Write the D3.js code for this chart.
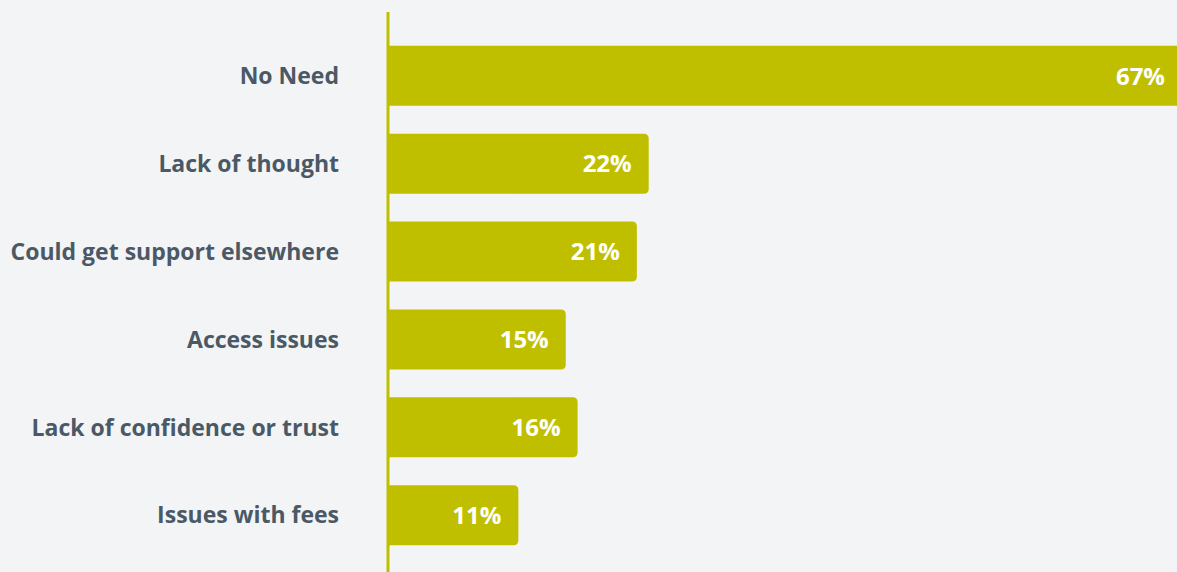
<!DOCTYPE html>
<html>
<head>
<meta charset="utf-8">
<script src="https://cdn.jsdelivr.net/npm/d3@7"></script>
<style>
  html, body { margin: 0; padding: 0; background: #f3f4f6; }
  svg { display: block; }
</style>
</head>
<body>
<svg id="chart"></svg>
<script>
const categories = ["No Need", "Lack of thought", "Could get support elsewhere", "Access issues", "Lack of confidence or trust", "Issues with fees"];
const values = [67, 22, 21, 15, 16, 11];
const valueLabels = ["67%", "22%", "21%", "15%", "16%", "11%"];

const width = 1177, height = 572;
const axisX = 388;

const svg = d3.select("#chart")
    .attr("width", width)
    .attr("height", height);

// the longest bar runs a little past the right edge of the picture
const x = d3.scaleLinear()
    .domain([0, 67])
    .range([axisX, 1182]);

const y = d3.scaleBand()
    .domain(categories)
    .range([16, 575])
    .paddingInner(0.317)
    .paddingOuter(0.34);

// bar with rounded right corners only
function barPath(x0, x1, top, h, r) {
    return `M${x0},${top}H${x1 - r}Q${x1},${top} ${x1},${top + r}` +
        `V${top + h - r}Q${x1},${top + h} ${x1 - r},${top + h}H${x0}Z`;
}

svg.selectAll(".bar")
    .data(categories)
    .enter()
    .append("path")
    .attr("class", "bar")
    .attr("d", (d, i) => barPath(x(0), x(values[i]), y(d), y.bandwidth(), 5))
    .style("fill", "#bfbf00");

// vertical axis line
svg.append("line")
    .attr("x1", axisX)
    .attr("x2", axisX)
    .attr("y1", 12)
    .attr("y2", height)
    .style("stroke", "#bfbf00")
    .style("stroke-width", "3px");

// category labels
svg.selectAll(".cat")
    .data(categories)
    .enter()
    .append("text")
    .attr("class", "cat")
    .attr("x", 339)
    .attr("y", d => y(d) + y.bandwidth() / 2)
    .attr("dy", ".36em")
    .style("text-anchor", "end")
    .style("font-family", "'Open Sans', sans-serif")
    .style("font-weight", "700")
    .style("font-size", "23px")
    .style("fill", "#4a5965")
    .text(d => d);

// value labels inside bars
svg.selectAll(".val")
    .data(categories)
    .enter()
    .append("text")
    .attr("class", "val")
    .attr("x", (d, i) => x(values[i]) - 17)
    .attr("y", d => y(d) + y.bandwidth() / 2)
    .attr("dy", ".36em")
    .style("text-anchor", "end")
    .style("font-family", "'Open Sans', sans-serif")
    .style("font-weight", "700")
    .style("font-size", "24px")
    .style("fill", "#ffffff")
    .text((d, i) => valueLabels[i]);
</script>
</body>
</html>
